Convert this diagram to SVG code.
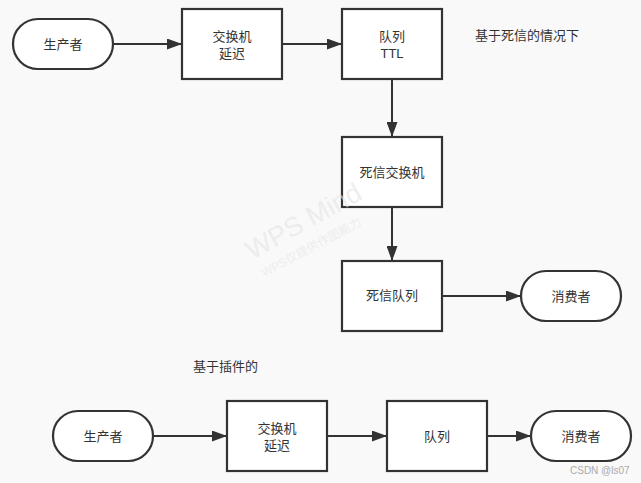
<svg xmlns="http://www.w3.org/2000/svg" width="641" height="483" viewBox="0 0 641 483">
<defs>
<style>
.n{fill:#ffffff;stroke:#333333;stroke-width:2.2}
.t{font-family:"Liberation Sans","Noto Sans CJK SC",sans-serif;font-size:13px;fill:#333333;text-anchor:middle}
.l{font-family:"Liberation Sans","Noto Sans CJK SC",sans-serif;font-size:13px;fill:#333333}
.e{stroke:#333333;stroke-width:2;fill:none;marker-end:url(#a)}
.wm{font-family:"Liberation Sans","Noto Sans CJK SC",sans-serif;fill:#e4e4e4;fill-opacity:0.6}
</style>
<marker id="a" viewBox="0 0 15 11" refX="15" refY="5.5" markerWidth="15" markerHeight="11" markerUnits="userSpaceOnUse" orient="auto">
<path d="M0,0 L15,5.5 L0,11 z" fill="#333333"/>
</marker>
</defs>
<rect width="641" height="483" fill="#f9f9f9"/>
<g id="connectors">
<line class="e" x1="113" y1="44" x2="182" y2="44"/>
<line class="e" x1="283" y1="44" x2="342" y2="44"/>
<line class="e" x1="392" y1="79" x2="392" y2="137"/>
<line class="e" x1="392" y1="208" x2="392" y2="261"/>
<line class="e" x1="442" y1="296" x2="521" y2="296"/>
<line class="e" x1="153" y1="436" x2="227" y2="436"/>
<line class="e" x1="328" y1="436" x2="387" y2="436"/>
<line class="e" x1="488" y1="436" x2="531" y2="436"/>
</g>
<g id="producer1"><rect class="n" x="13" y="19" width="100" height="50" rx="25" ry="25"/><text class="t" x="63" y="49">生产者</text></g>
<g id="exchange1"><rect class="n" x="182" y="9" width="100" height="70"/><text class="t" x="232" y="41"><tspan x="232">交换机</tspan><tspan x="232" dy="17">延迟</tspan></text></g>
<g id="queue1"><rect class="n" x="342" y="9" width="100" height="70"/><text class="t" x="392" y="41"><tspan x="392">队列</tspan><tspan x="392" dy="17">TTL</tspan></text></g>
<g id="label1"><text class="l" x="475" y="40">基于死信的情况下</text></g>
<g id="dlx"><rect class="n" x="342" y="137" width="100" height="70"/><text class="t" x="392" y="177">死信交换机</text></g>
<g id="dlq"><rect class="n" x="342" y="261" width="100" height="70"/><text class="t" x="392" y="300">死信队列</text></g>
<g id="consumer1"><rect class="n" x="521" y="271" width="100" height="50" rx="25" ry="25"/><text class="t" x="571" y="301">消费者</text></g>
<g id="label2"><text class="l" x="193" y="371">基于插件的</text></g>
<g id="producer2"><rect class="n" x="53" y="411" width="100" height="50" rx="25" ry="25"/><text class="t" x="103" y="441">生产者</text></g>
<g id="exchange2"><rect class="n" x="227" y="401" width="100" height="70"/><text class="t" x="277" y="433"><tspan x="277">交换机</tspan><tspan x="277" dy="17">延迟</tspan></text></g>
<g id="queue2"><rect class="n" x="387" y="401" width="100" height="70"/><text class="t" x="437" y="441">队列</text></g>
<g id="consumer2"><rect class="n" x="531" y="411" width="100" height="50" rx="25" ry="25"/><text class="t" x="581" y="441">消费者</text></g>
<text x="570" y="474" font-family="Liberation Sans,sans-serif" font-size="10" fill="#aaaaaa">CSDN @ls07</text>
<g id="watermark">
<text class="wm" font-size="27" transform="translate(252,260) rotate(-29)">WPS Mind</text>
<text class="wm" font-size="12" transform="translate(264,277) rotate(-28)">WPS仅提供作图能力</text>
</g>
</svg>
